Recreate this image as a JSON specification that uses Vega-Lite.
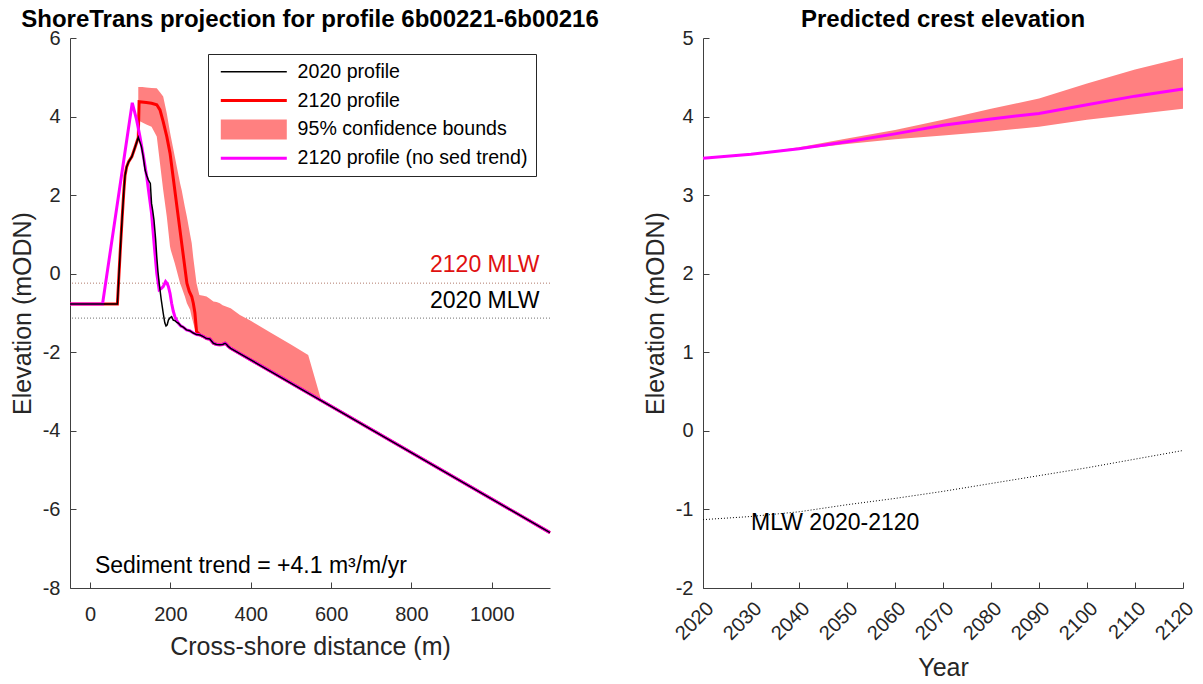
{
  "$schema": "https://vega.github.io/schema/vega-lite/v6.json",
  "autosize": {"type": "none"},
  "padding": {"left": 70, "top": 38, "right": 1133, "bottom": 646},
  "background": "white",
  "bounds": "flush",
  "spacing": 153,
  "config": {
    "font": "Liberation Sans",
    "view": {"stroke": null},
    "axis": {
      "domainColor": "#404040", "tickColor": "#404040", "labelColor": "#262626", "titleColor": "#262626",
      "labelFont": "Liberation Sans", "titleFont": "Liberation Sans",
      "labelFontSize": 20, "titleFontSize": 25, "titleFontWeight": "normal",
      "grid": false, "tickSize": -6, "labelPadding": 16, "domainWidth": 1, "tickWidth": 1
    },
    "title": {"fontSize": 24, "font": "Liberation Sans", "fontWeight": "bold", "color": "#000000", "frame": "group", "offset": -4}
  },
  "datasets": {
    "profiles": [
      {"series": "2020 profile", "m": -50, "z": -0.77},
      {"series": "2020 profile", "m": 68, "z": -0.77},
      {"series": "2020 profile", "m": 72, "z": 0.0},
      {"series": "2020 profile", "m": 76, "z": 0.75},
      {"series": "2020 profile", "m": 80, "z": 1.45},
      {"series": "2020 profile", "m": 84, "z": 2.1},
      {"series": "2020 profile", "m": 87, "z": 2.5},
      {"series": "2020 profile", "m": 91, "z": 2.72},
      {"series": "2020 profile", "m": 96, "z": 2.85},
      {"series": "2020 profile", "m": 104, "z": 2.98},
      {"series": "2020 profile", "m": 112, "z": 3.22},
      {"series": "2020 profile", "m": 120, "z": 3.47},
      {"series": "2020 profile", "m": 124, "z": 3.35},
      {"series": "2020 profile", "m": 128, "z": 3.23},
      {"series": "2020 profile", "m": 132, "z": 3.0},
      {"series": "2020 profile", "m": 137, "z": 2.64},
      {"series": "2020 profile", "m": 141, "z": 2.5},
      {"series": "2020 profile", "m": 145, "z": 2.39},
      {"series": "2020 profile", "m": 150, "z": 2.3},
      {"series": "2020 profile", "m": 153, "z": 1.79},
      {"series": "2020 profile", "m": 156, "z": 1.6},
      {"series": "2020 profile", "m": 159, "z": 1.37},
      {"series": "2020 profile", "m": 163, "z": 0.9},
      {"series": "2020 profile", "m": 166, "z": 0.43},
      {"series": "2020 profile", "m": 169, "z": 0.05},
      {"series": "2020 profile", "m": 172, "z": -0.24},
      {"series": "2020 profile", "m": 177, "z": -0.65},
      {"series": "2020 profile", "m": 182, "z": -1.0},
      {"series": "2020 profile", "m": 186, "z": -1.25},
      {"series": "2020 profile", "m": 189, "z": -1.33},
      {"series": "2020 profile", "m": 192, "z": -1.3},
      {"series": "2020 profile", "m": 195, "z": -1.18},
      {"series": "2020 profile", "m": 199, "z": -1.12},
      {"series": "2020 profile", "m": 203, "z": -1.09},
      {"series": "2020 profile", "m": 207, "z": -1.18},
      {"series": "2020 profile", "m": 212, "z": -1.2},
      {"series": "2020 profile", "m": 216, "z": -1.24},
      {"series": "2020 profile", "m": 220, "z": -1.26},
      {"series": "2020 profile", "m": 226, "z": -1.33},
      {"series": "2020 profile", "m": 232, "z": -1.36},
      {"series": "2020 profile", "m": 240, "z": -1.43},
      {"series": "2020 profile", "m": 248, "z": -1.45},
      {"series": "2020 profile", "m": 257, "z": -1.51},
      {"series": "2020 profile", "m": 265, "z": -1.55},
      {"series": "2020 profile", "m": 274, "z": -1.56},
      {"series": "2020 profile", "m": 282, "z": -1.6},
      {"series": "2020 profile", "m": 290, "z": -1.65},
      {"series": "2020 profile", "m": 298, "z": -1.66},
      {"series": "2020 profile", "m": 307, "z": -1.77},
      {"series": "2020 profile", "m": 315, "z": -1.8},
      {"series": "2020 profile", "m": 323, "z": -1.81},
      {"series": "2020 profile", "m": 330, "z": -1.8},
      {"series": "2020 profile", "m": 336, "z": -1.77},
      {"series": "2020 profile", "m": 340, "z": -1.8},
      {"series": "2020 profile", "m": 344, "z": -1.85},
      {"series": "2020 profile", "m": 350, "z": -1.9},
      {"series": "2020 profile", "m": 1145, "z": -6.59},

      {"series": "2120 profile", "m": -50, "z": -0.77},
      {"series": "2120 profile", "m": 68, "z": -0.77},
      {"series": "2120 profile", "m": 72, "z": 0.0},
      {"series": "2120 profile", "m": 76, "z": 0.75},
      {"series": "2120 profile", "m": 80, "z": 1.45},
      {"series": "2120 profile", "m": 84, "z": 2.1},
      {"series": "2120 profile", "m": 87, "z": 2.5},
      {"series": "2120 profile", "m": 91, "z": 2.72},
      {"series": "2120 profile", "m": 96, "z": 2.85},
      {"series": "2120 profile", "m": 104, "z": 2.98},
      {"series": "2120 profile", "m": 112, "z": 3.22},
      {"series": "2120 profile", "m": 120, "z": 3.47},
      {"series": "2120 profile", "m": 122, "z": 4.38},
      {"series": "2120 profile", "m": 140, "z": 4.36},
      {"series": "2120 profile", "m": 153, "z": 4.34},
      {"series": "2120 profile", "m": 166, "z": 4.3},
      {"series": "2120 profile", "m": 174, "z": 4.17},
      {"series": "2120 profile", "m": 182, "z": 3.87},
      {"series": "2120 profile", "m": 191, "z": 3.49},
      {"series": "2120 profile", "m": 199, "z": 3.07},
      {"series": "2120 profile", "m": 220, "z": 1.41},
      {"series": "2120 profile", "m": 241, "z": -0.24},
      {"series": "2120 profile", "m": 247, "z": -0.45},
      {"series": "2120 profile", "m": 253, "z": -0.58},
      {"series": "2120 profile", "m": 257, "z": -0.75},
      {"series": "2120 profile", "m": 261, "z": -1.0},
      {"series": "2120 profile", "m": 265, "z": -1.47},
      {"series": "2120 profile", "m": 274, "z": -1.56},
      {"series": "2120 profile", "m": 282, "z": -1.6},
      {"series": "2120 profile", "m": 290, "z": -1.65},
      {"series": "2120 profile", "m": 298, "z": -1.66},
      {"series": "2120 profile", "m": 307, "z": -1.77},
      {"series": "2120 profile", "m": 315, "z": -1.8},
      {"series": "2120 profile", "m": 323, "z": -1.81},
      {"series": "2120 profile", "m": 330, "z": -1.8},
      {"series": "2120 profile", "m": 336, "z": -1.77},
      {"series": "2120 profile", "m": 340, "z": -1.8},
      {"series": "2120 profile", "m": 344, "z": -1.85},
      {"series": "2120 profile", "m": 350, "z": -1.9},
      {"series": "2120 profile", "m": 1145, "z": -6.59},

      {"series": "2120 profile (no sed trend)", "m": -50, "z": -0.77},
      {"series": "2120 profile (no sed trend)", "m": 31, "z": -0.77},
      {"series": "2120 profile (no sed trend)", "m": 105, "z": 4.35},
      {"series": "2120 profile (no sed trend)", "m": 110, "z": 4.15},
      {"series": "2120 profile (no sed trend)", "m": 116, "z": 3.91},
      {"series": "2120 profile (no sed trend)", "m": 124, "z": 3.5},
      {"series": "2120 profile (no sed trend)", "m": 133, "z": 2.98},
      {"series": "2120 profile (no sed trend)", "m": 141, "z": 2.47},
      {"series": "2120 profile (no sed trend)", "m": 147, "z": 2.0},
      {"series": "2120 profile (no sed trend)", "m": 153, "z": 1.54},
      {"series": "2120 profile (no sed trend)", "m": 160, "z": 0.69},
      {"series": "2120 profile (no sed trend)", "m": 166, "z": 0.01},
      {"series": "2120 profile (no sed trend)", "m": 172, "z": -0.41},
      {"series": "2120 profile (no sed trend)", "m": 177, "z": -0.38},
      {"series": "2120 profile (no sed trend)", "m": 182, "z": -0.33},
      {"series": "2120 profile (no sed trend)", "m": 188, "z": -0.2},
      {"series": "2120 profile (no sed trend)", "m": 192, "z": -0.25},
      {"series": "2120 profile (no sed trend)", "m": 195, "z": -0.33},
      {"series": "2120 profile (no sed trend)", "m": 199, "z": -0.5},
      {"series": "2120 profile (no sed trend)", "m": 203, "z": -0.75},
      {"series": "2120 profile (no sed trend)", "m": 207, "z": -0.95},
      {"series": "2120 profile (no sed trend)", "m": 211, "z": -1.09},
      {"series": "2120 profile (no sed trend)", "m": 216, "z": -1.2},
      {"series": "2120 profile (no sed trend)", "m": 220, "z": -1.26},
      {"series": "2120 profile (no sed trend)", "m": 226, "z": -1.33},
      {"series": "2120 profile (no sed trend)", "m": 232, "z": -1.36},
      {"series": "2120 profile (no sed trend)", "m": 240, "z": -1.43},
      {"series": "2120 profile (no sed trend)", "m": 248, "z": -1.45},
      {"series": "2120 profile (no sed trend)", "m": 257, "z": -1.51},
      {"series": "2120 profile (no sed trend)", "m": 265, "z": -1.55},
      {"series": "2120 profile (no sed trend)", "m": 274, "z": -1.56},
      {"series": "2120 profile (no sed trend)", "m": 282, "z": -1.6},
      {"series": "2120 profile (no sed trend)", "m": 290, "z": -1.65},
      {"series": "2120 profile (no sed trend)", "m": 298, "z": -1.66},
      {"series": "2120 profile (no sed trend)", "m": 307, "z": -1.77},
      {"series": "2120 profile (no sed trend)", "m": 315, "z": -1.8},
      {"series": "2120 profile (no sed trend)", "m": 323, "z": -1.81},
      {"series": "2120 profile (no sed trend)", "m": 330, "z": -1.8},
      {"series": "2120 profile (no sed trend)", "m": 336, "z": -1.77},
      {"series": "2120 profile (no sed trend)", "m": 340, "z": -1.8},
      {"series": "2120 profile (no sed trend)", "m": 344, "z": -1.85},
      {"series": "2120 profile (no sed trend)", "m": 350, "z": -1.9},
      {"series": "2120 profile (no sed trend)", "m": 1145, "z": -6.59}
    ],
    "band": [
      {"series": "95% confidence bounds", "m": 120, "lo": 3.9, "hi": 4.75},
      {"series": "95% confidence bounds", "m": 130, "lo": 3.85, "hi": 4.75},
      {"series": "95% confidence bounds", "m": 140, "lo": 3.8, "hi": 4.74},
      {"series": "95% confidence bounds", "m": 153, "lo": 3.74, "hi": 4.73},
      {"series": "95% confidence bounds", "m": 166, "lo": 3.49, "hi": 4.72},
      {"series": "95% confidence bounds", "m": 174, "lo": 2.81, "hi": 4.62},
      {"series": "95% confidence bounds", "m": 182, "lo": 2.13, "hi": 4.51},
      {"series": "95% confidence bounds", "m": 191, "lo": 1.45, "hi": 4.08},
      {"series": "95% confidence bounds", "m": 199, "lo": 0.69, "hi": 3.6},
      {"series": "95% confidence bounds", "m": 201, "lo": 0.6, "hi": 3.49},
      {"series": "95% confidence bounds", "m": 211, "lo": 0.26, "hi": 2.98},
      {"series": "95% confidence bounds", "m": 224, "lo": -0.24, "hi": 2.3},
      {"series": "95% confidence bounds", "m": 228, "lo": -0.35, "hi": 2.13},
      {"series": "95% confidence bounds", "m": 236, "lo": -0.58, "hi": 1.7},
      {"series": "95% confidence bounds", "m": 241, "lo": -0.75, "hi": 1.45},
      {"series": "95% confidence bounds", "m": 249, "lo": -0.92, "hi": 1.0},
      {"series": "95% confidence bounds", "m": 253, "lo": -1.1, "hi": 0.78},
      {"series": "95% confidence bounds", "m": 257, "lo": -1.26, "hi": 0.4},
      {"series": "95% confidence bounds", "m": 265, "lo": -1.55, "hi": -0.24},
      {"series": "95% confidence bounds", "m": 272, "lo": -1.56, "hi": -0.54},
      {"series": "95% confidence bounds", "m": 282, "lo": -1.6, "hi": -0.56},
      {"series": "95% confidence bounds", "m": 290, "lo": -1.65, "hi": -0.58},
      {"series": "95% confidence bounds", "m": 298, "lo": -1.66, "hi": -0.64},
      {"series": "95% confidence bounds", "m": 307, "lo": -1.77, "hi": -0.71},
      {"series": "95% confidence bounds", "m": 315, "lo": -1.8, "hi": -0.72},
      {"series": "95% confidence bounds", "m": 323, "lo": -1.81, "hi": -0.75},
      {"series": "95% confidence bounds", "m": 330, "lo": -1.8, "hi": -0.8},
      {"series": "95% confidence bounds", "m": 340, "lo": -1.8, "hi": -0.84},
      {"series": "95% confidence bounds", "m": 350, "lo": -1.9, "hi": -0.88},
      {"series": "95% confidence bounds", "m": 373, "lo": -2.04, "hi": -1.05},
      {"series": "95% confidence bounds", "m": 400, "lo": -2.2, "hi": -1.2},
      {"series": "95% confidence bounds", "m": 450, "lo": -2.49, "hi": -1.5},
      {"series": "95% confidence bounds", "m": 500, "lo": -2.78, "hi": -1.8},
      {"series": "95% confidence bounds", "m": 543, "lo": -3.04, "hi": -2.07},
      {"series": "95% confidence bounds", "m": 576, "lo": -3.24, "hi": -3.24}
    ],
    "mlwLeft": [
      {"name": "2120 MLW", "level": -0.24},
      {"name": "2020 MLW", "level": -1.13}
    ],
    "notesLeft": [
      {"label": "2120 MLW", "m": 1119, "z": 0.22},
      {"label": "2020 MLW", "m": 1119, "z": -0.69},
      {"label": "Sediment trend = +4.1 m³/m/yr", "m": 12, "z": -7.43}
    ],
    "crest": [
      {"year": 2020, "z": 3.47, "lo": 3.47, "hi": 3.47},
      {"year": 2030, "z": 3.52, "lo": 3.52, "hi": 3.52},
      {"year": 2040, "z": 3.59, "lo": 3.58, "hi": 3.61},
      {"year": 2050, "z": 3.68, "lo": 3.65, "hi": 3.72},
      {"year": 2060, "z": 3.78, "lo": 3.71, "hi": 3.83},
      {"year": 2070, "z": 3.89, "lo": 3.76, "hi": 3.96},
      {"year": 2080, "z": 3.97, "lo": 3.81, "hi": 4.1},
      {"year": 2090, "z": 4.04, "lo": 3.87, "hi": 4.23},
      {"year": 2100, "z": 4.15, "lo": 3.96, "hi": 4.42},
      {"year": 2110, "z": 4.26, "lo": 4.03, "hi": 4.6},
      {"year": 2120, "z": 4.35, "lo": 4.1, "hi": 4.75}
    ],
    "mlwRight": [
      {"year": 2020, "z": -1.13},
      {"year": 2030, "z": -1.09},
      {"year": 2040, "z": -1.03},
      {"year": 2050, "z": -0.94},
      {"year": 2060, "z": -0.86},
      {"year": 2070, "z": -0.77},
      {"year": 2080, "z": -0.67},
      {"year": 2090, "z": -0.57},
      {"year": 2100, "z": -0.47},
      {"year": 2110, "z": -0.36},
      {"year": 2120, "z": -0.25}
    ],
    "notesRight": [
      {"label": "MLW 2020-2120", "year": 2030, "z": -1.17}
    ]
  },
  "hconcat": [
    {
      "width": 480,
      "height": 550,
      "title": {"text": "ShoreTrans projection for profile 6b00221-6b00216"},
      "encoding": {
        "x": {"type": "quantitative", "scale": {"domain": [-50, 1145], "nice": false, "zero": false},
              "axis": {"title": "Cross-shore distance (m)", "values": [0, 200, 400, 600, 800, 1000], "labelExpr": "'' + datum.value", "labelPadding": 22, "titlePadding": 10}},
        "y": {"type": "quantitative", "scale": {"domain": [-8, 6], "nice": false, "zero": false},
              "axis": {"title": "Elevation (mODN)", "values": [-8, -6, -4, -2, 0, 2, 4, 6], "labelExpr": "'' + datum.value", "titlePadding": 7}}
      },
      "layer": [
        {
          "data": {"name": "mlwLeft"},
          "transform": [{"filter": "datum.name == '2120 MLW'"}],
          "mark": {"type": "rule", "color": "#b07a6a", "strokeWidth": 1, "strokeDash": [1, 2]},
          "encoding": {"y": {"field": "level"}}
        },
        {
          "data": {"name": "mlwLeft"},
          "transform": [{"filter": "datum.name == '2020 MLW'"}],
          "mark": {"type": "rule", "color": "#707070", "strokeWidth": 1, "strokeDash": [1, 2]},
          "encoding": {"y": {"field": "level"}}
        },
        {
          "data": {"name": "band"},
          "mark": {"type": "area", "opacity": 1},
          "encoding": {
            "x": {"field": "m"},
            "y": {"field": "lo"},
            "y2": {"field": "hi"},
            "color": {
              "field": "series", "type": "nominal",
              "scale": {"domain": ["2020 profile", "2120 profile", "95% confidence bounds", "2120 profile (no sed trend)"],
                        "range": ["#000000", "#ff0000", "#ff8080", "#ff00ff"]},
              "legend": {
                "orient": "none", "legendX": 138, "legendY": 16, "title": null,
                "strokeColor": "#262626", "fillColor": "white", "padding": 8,
                "labelFontSize": 19.6, "labelFont": "Liberation Sans", "labelColor": "#000000", "labelLimit": 400,
                "symbolType": "M-1,0L12.2,0", "symbolSize": 100, "labelOffset": 62, "rowPadding": 7.8,
                "symbolStrokeWidth": 3, "symbolOpacity": 1,
                "encode": {"symbols": {"update": {
                  "shape": {"signal": "datum.value == '95% confidence bounds' ? 'M-1,-2L12.2,-2L12.2,2L-1,2Z' : 'M-1,0L12.2,0'"},
                  "strokeWidth": {"signal": "datum.value == '95% confidence bounds' ? 0 : datum.value == '2020 profile' ? 1.5 : 3"},
                  "fill": {"signal": "datum.value == '95% confidence bounds' ? '#ff8080' : 'transparent'"},
                  "stroke": {"scale": "color", "field": "value"}
                }}}
              }
            }
          }
        },
        {
          "data": {"name": "profiles"},
          "transform": [{"filter": "datum.series == '2120 profile'"}],
          "mark": {"type": "line", "strokeWidth": 3},
          "encoding": {"x": {"field": "m"}, "y": {"field": "z"}, "color": {"field": "series", "type": "nominal"}}
        },
        {
          "data": {"name": "profiles"},
          "transform": [{"filter": "datum.series == '2120 profile (no sed trend)'"}],
          "mark": {"type": "line", "strokeWidth": 3},
          "encoding": {"x": {"field": "m"}, "y": {"field": "z"}, "color": {"field": "series", "type": "nominal"}}
        },
        {
          "data": {"name": "profiles"},
          "transform": [{"filter": "datum.series == '2020 profile'"}],
          "mark": {"type": "line", "strokeWidth": 1.5},
          "encoding": {"x": {"field": "m"}, "y": {"field": "z"}, "color": {"field": "series", "type": "nominal"}}
        },
        {
          "data": {"name": "notesLeft"},
          "transform": [{"filter": "datum.label == '2120 MLW'"}],
          "mark": {"type": "text", "align": "right", "baseline": "middle", "fontSize": 23, "color": "#e01010", "font": "Liberation Sans"},
          "encoding": {"x": {"field": "m"}, "y": {"field": "z"}, "text": {"field": "label"}}
        },
        {
          "data": {"name": "notesLeft"},
          "transform": [{"filter": "datum.label == '2020 MLW'"}],
          "mark": {"type": "text", "align": "right", "baseline": "middle", "fontSize": 23, "color": "#000000", "font": "Liberation Sans"},
          "encoding": {"x": {"field": "m"}, "y": {"field": "z"}, "text": {"field": "label"}}
        },
        {
          "data": {"name": "notesLeft"},
          "transform": [{"filter": "indexof(datum.label, 'Sediment') == 0"}],
          "mark": {"type": "text", "align": "left", "baseline": "middle", "fontSize": 23, "color": "#000000", "font": "Liberation Sans"},
          "encoding": {"x": {"field": "m"}, "y": {"field": "z"}, "text": {"field": "label"}}
        }
      ]
    },
    {
      "width": 480,
      "height": 550,
      "title": {"text": "Predicted crest elevation"},
      "encoding": {
        "x": {"type": "quantitative", "scale": {"domain": [2020, 2120], "nice": false, "zero": false},
              "axis": {"title": "Year", "values": [2020, 2030, 2040, 2050, 2060, 2070, 2080, 2090, 2100, 2110, 2120], "labelExpr": "'' + datum.value", "labelAngle": -45, "labelPadding": 16, "titlePadding": 12}},
        "y": {"type": "quantitative", "scale": {"domain": [-2, 5], "nice": false, "zero": false},
              "axis": {"title": "Elevation (mODN)", "values": [-2, -1, 0, 1, 2, 3, 4, 5], "labelExpr": "'' + datum.value", "titlePadding": 7}}
      },
      "layer": [
        {
          "data": {"name": "crest"},
          "mark": {"type": "area", "color": "#ff8080", "opacity": 1},
          "encoding": {"x": {"field": "year"}, "y": {"field": "lo"}, "y2": {"field": "hi"}}
        },
        {
          "data": {"name": "crest"},
          "mark": {"type": "line", "color": "#ff00ff", "strokeWidth": 3},
          "encoding": {"x": {"field": "year"}, "y": {"field": "z"}}
        },
        {
          "data": {"name": "mlwRight"},
          "mark": {"type": "line", "color": "#000000", "strokeWidth": 1, "strokeDash": [1, 2]},
          "encoding": {"x": {"field": "year"}, "y": {"field": "z"}}
        },
        {
          "data": {"name": "notesRight"},
          "mark": {"type": "text", "align": "left", "baseline": "middle", "fontSize": 23, "color": "#000000", "font": "Liberation Sans"},
          "encoding": {"x": {"field": "year"}, "y": {"field": "z"}, "text": {"field": "label"}}
        }
      ]
    }
  ]
}
